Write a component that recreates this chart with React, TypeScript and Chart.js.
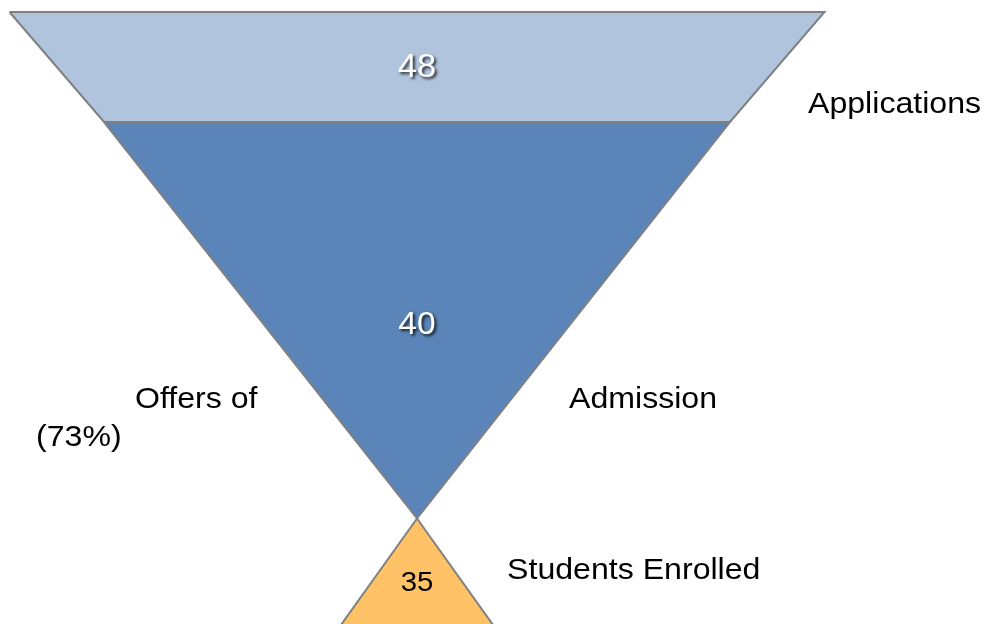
import React, { useEffect, useRef } from 'react';
import { Chart, registerables } from 'chart.js';

Chart.register(...registerables);

// ---------- data ----------
const stageNames = ['Applications', 'Offers of Admission', 'Students Enrolled'];
const stageCounts = [48, 40, 35];
const offerLabelParts = ['Offers of', 'Admission'];
const conversionLabel = '(73%)';

// ---------- layout (funnel units: x = half-width units, y = depth units) ----------
const W = 990;
const H = 624;
const X_RANGE = { min: -1.0233, max: 1.4061 };
const Y_RANGE = { min: -0.0237, max: 1.2083 };
const SEGMENTS = [
  { top: 0, bottom: 0.2172, topHalf: 1, bottomHalf: 0.768 },
  { top: 0.2172, bottom: 1, topHalf: 0.768, bottomHalf: 0 },
  { top: 1, bottom: 1.25, topHalf: 0, bottomHalf: 0.222 },
];
const FILLS = ['#B0C4DE', '#5B85B8', '#FFC266'];
const BORDER = '#808080';
const VALUE_STYLE = [
  { size: 33, color: '#FFFFFF', shadow: true, dv: 0.002 },
  { size: 32, color: '#FFFFFF', shadow: true, dv: 0.009 },
  { size: 28, color: '#000000', shadow: false, dv: 0.003 },
];
const LABEL_POS = [
  { text: stageNames[0], u: 0.9595, v: 0.1985 },
  { text: offerLabelParts[0], u: -0.692, v: 0.782 },
  { text: offerLabelParts[1], u: 0.373, v: 0.782 },
  { text: conversionLabel, u: -0.935, v: 0.857 },
  { text: stageNames[2], u: 0.221, v: 1.1195 },
];
const FONT = '"Liberation Sans", Arial, sans-serif';
const LABEL_SIZE = 30;
const STRETCH = 1.07;

function polygon(seg: { top: number; bottom: number; topHalf: number; bottomHalf: number }) {
  return [
    { x: -seg.topHalf, y: seg.top },
    { x: seg.topHalf, y: seg.top },
    { x: seg.bottomHalf, y: seg.bottom },
    { x: -seg.bottomHalf, y: seg.bottom },
    { x: -seg.topHalf, y: seg.top },
  ];
}

const textPlugin = {
  id: 'funnelText',
  afterDatasetsDraw(chart: any) {
    const { ctx, scales } = chart;
    const xs = scales.x;
    const ys = scales.y;
    SEGMENTS.forEach((seg, i) => {
      const st = VALUE_STYLE[i];
      const px = xs.getPixelForValue(0);
      const py = ys.getPixelForValue((seg.top + seg.bottom) / 2 + st.dv);
      ctx.save();
      ctx.translate(px, py);
      ctx.scale(1.05, 1);
      ctx.font = `${st.size}px ${FONT}`;
      ctx.textAlign = 'center';
      ctx.textBaseline = 'middle';
      if (st.shadow) {
        ctx.shadowColor = 'rgba(0,0,0,0.8)';
        ctx.shadowOffsetX = 2;
        ctx.shadowOffsetY = 2;
        ctx.shadowBlur = 3;
      }
      ctx.fillStyle = st.color;
      ctx.fillText(String(stageCounts[i]), 0, 0);
      ctx.restore();
    });
    LABEL_POS.forEach((l) => {
      const px = xs.getPixelForValue(l.u);
      const py = ys.getPixelForValue(l.v);
      ctx.save();
      ctx.translate(px, py);
      ctx.scale(STRETCH, 1);
      ctx.font = `${LABEL_SIZE}px ${FONT}`;
      ctx.textAlign = 'left';
      ctx.textBaseline = 'alphabetic';
      ctx.fillStyle = '#000000';
      ctx.fillText(l.text, 0, 0);
      ctx.restore();
    });
  },
};

export default function App() {
  const ref = useRef<HTMLCanvasElement | null>(null);
  useEffect(() => {
    if (!ref.current) return;
    const chart = new Chart(ref.current, {
      type: 'scatter',
      data: {
        datasets: SEGMENTS.map((seg, i) => ({
          label: stageNames[i],
          data: polygon(seg),
          showLine: true,
          fill: 'shape',
          backgroundColor: FILLS[i],
          borderColor: BORDER,
          borderWidth: 2,
          borderJoinStyle: 'miter',
          pointRadius: 0,
          pointHoverRadius: 0,
          tension: 0,
        })) as any,
      },
      options: {
        responsive: false,
        maintainAspectRatio: false,
        devicePixelRatio: 1,
        animation: false,
        events: [],
        layout: { padding: 0 },
        plugins: {
          legend: { display: false },
          tooltip: { enabled: false },
        },
        scales: {
          x: { type: 'linear', display: false, min: X_RANGE.min, max: X_RANGE.max },
          y: { type: 'linear', display: false, reverse: true, min: Y_RANGE.min, max: Y_RANGE.max },
        },
      } as any,
      plugins: [textPlugin],
    });
    return () => chart.destroy();
  }, []);

  return (
    <div style={{ position: 'absolute', left: 0, top: 0, width: W, height: H, background: '#fff' }}>
      <canvas ref={ref} width={W} height={H} style={{ display: 'block', width: W, height: H }} />
    </div>
  );
}
